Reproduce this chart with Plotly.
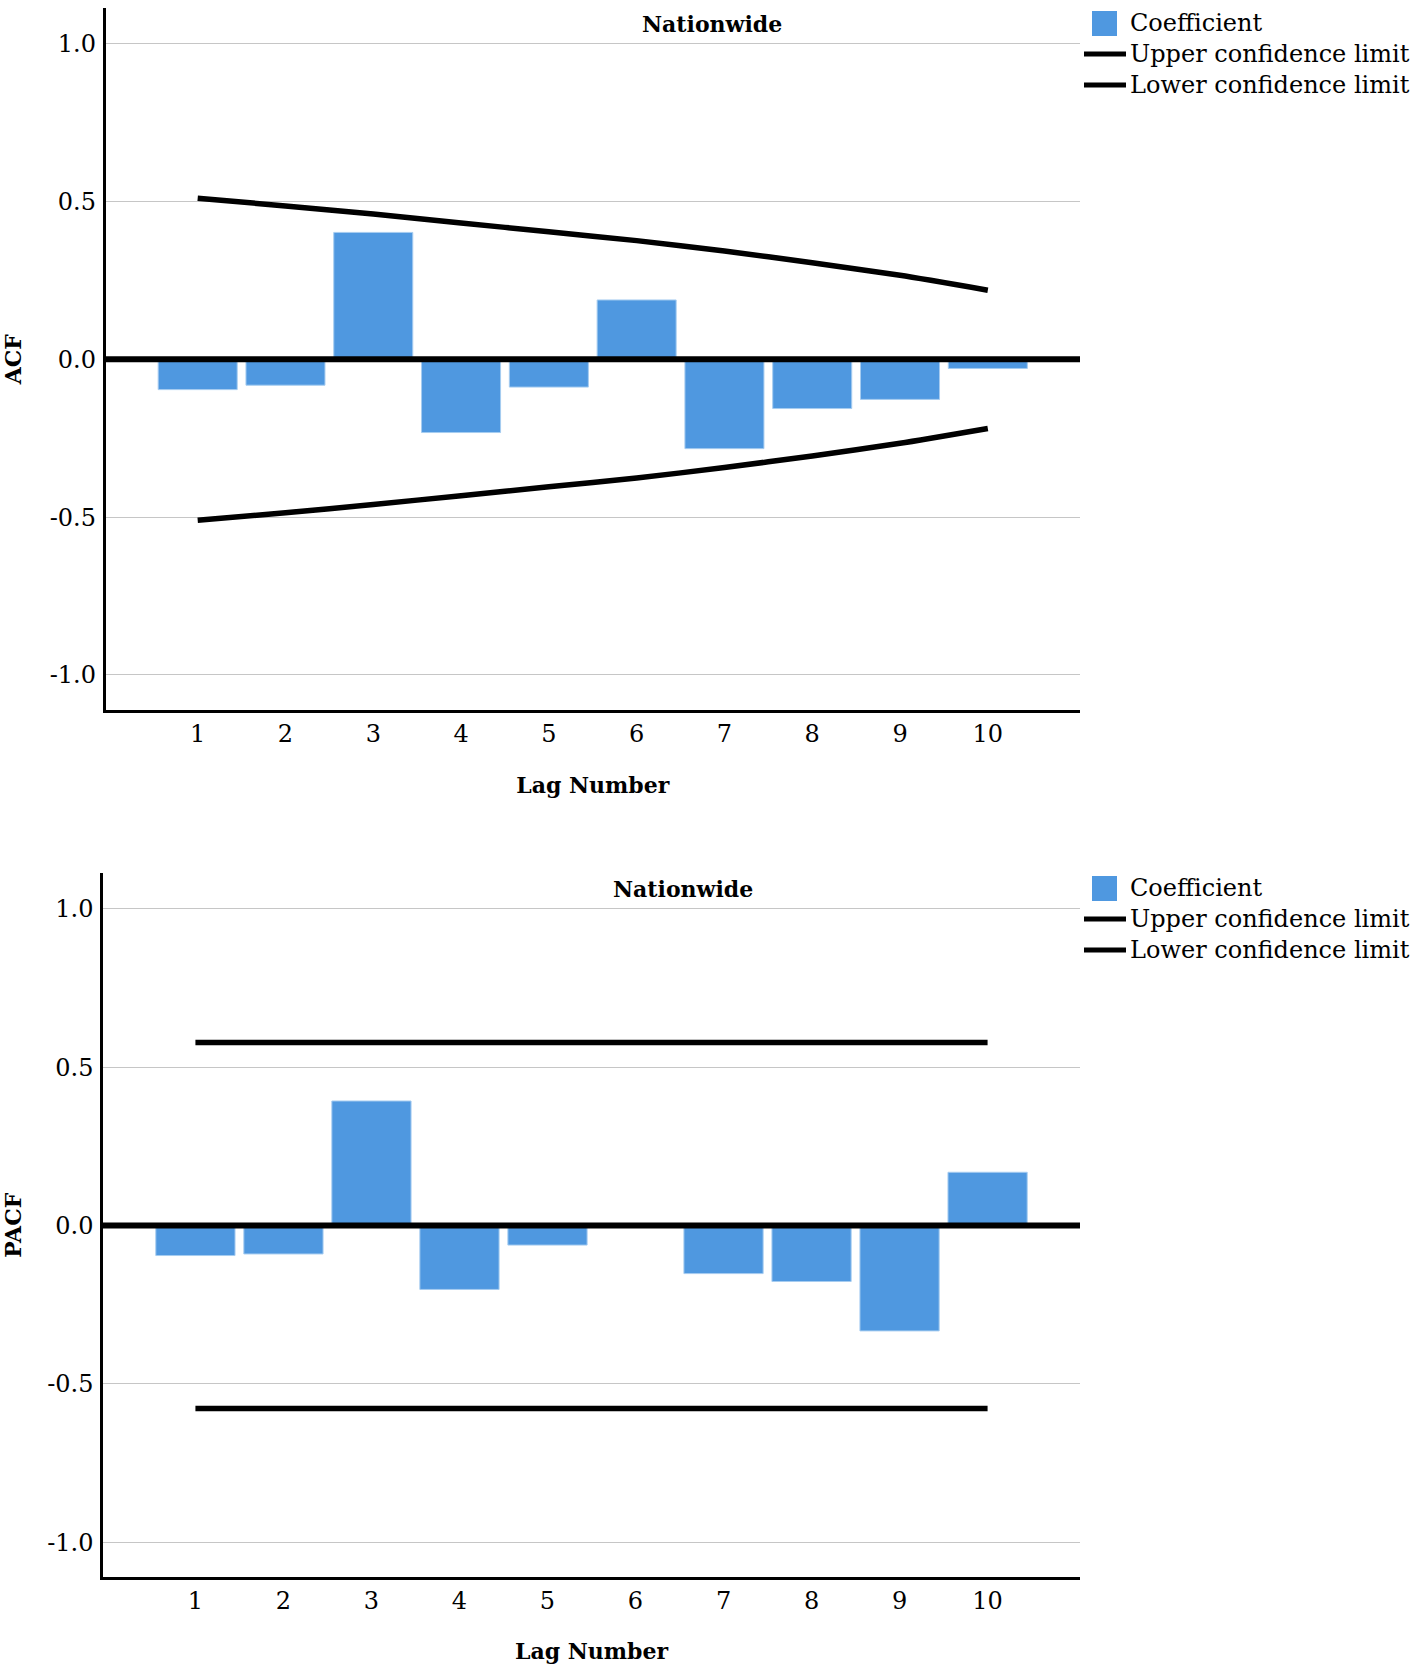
import plotly.graph_objects as go

# ---------------- data ----------------
lags = [1, 2, 3, 4, 5, 6, 7, 8, 9, 10]
lag_tick_text = ["1", "2", "3", "4", "5", "6", "7", "8", "9", "10"]
y_tick_vals = [-1.0, -0.5, 0.0, 0.5, 1.0]
y_tick_text = ["-1.0", "-0.5", "0.0", "0.5", "1.0"]

acf_coef = [-0.096, -0.082, 0.402, -0.232, -0.088, 0.188, -0.283, -0.156, -0.127, -0.029]
acf_upper = [0.510, 0.486, 0.460, 0.432, 0.404, 0.376, 0.343, 0.306, 0.266, 0.219]
acf_lower = [-0.510, -0.486, -0.460, -0.432, -0.404, -0.376, -0.343, -0.306, -0.266, -0.219]

pacf_coef = [-0.095, -0.090, 0.393, -0.202, -0.062, 0.002, -0.152, -0.177, -0.333, 0.168]
pacf_upper = [0.578, 0.578, 0.578, 0.578, 0.578, 0.578, 0.578, 0.578, 0.578, 0.578]
pacf_lower = [-0.578, -0.578, -0.578, -0.578, -0.578, -0.578, -0.578, -0.578, -0.578, -0.578]

series_names = ["Coefficient", "Upper confidence limit", "Lower confidence limit"]
panel_title = "Nationwide"
y_titles = ["ACF", "PACF"]
x_title = "Lag Number"

# ---------------- style ----------------
W, H = 1424, 1668
FONT = "DejaVu Serif"
BAR_COLOR = "#4f98e0"
BAR_EDGE = "#a6ccf0"
GRID = "#c6c6c6"


def px_x(p):
    return p / W


def px_y(p):
    return 1 - p / H


fig = go.Figure()

panels = [
    dict(coef=acf_coef, up=acf_upper, lo=acf_lower, xa="x", ya="y",
         xdom=[px_x(105.5), px_x(1080)], ydom=[px_y(710), px_y(8.3)],
         title_x=711.7, title_y=24, leg_top=0, ytitle=y_titles[0], xstand=32),
    dict(coef=pacf_coef, up=pacf_upper, lo=pacf_lower, xa="x2", ya="y2",
         xdom=[px_x(103), px_x(1080)], ydom=[px_y(1577.3), px_y(873.3)],
         title_x=683, title_y=889, leg_top=865, ytitle=y_titles[1], xstand=30),
]

shapes = []
annotations = []

for i, p in enumerate(panels):
    fig.add_trace(go.Bar(x=lags, y=p["coef"], name=series_names[0],
                         marker=dict(color=BAR_COLOR, line=dict(color=BAR_EDGE, width=1)),
                         xaxis=p["xa"], yaxis=p["ya"], showlegend=False))
    fig.add_trace(go.Scatter(x=lags, y=p["up"], name=series_names[1], mode="lines",
                             line=dict(color="black", width=5.5, shape="spline", smoothing=0.6),
                             xaxis=p["xa"], yaxis=p["ya"], showlegend=False))
    fig.add_trace(go.Scatter(x=lags, y=p["lo"], name=series_names[2], mode="lines",
                             line=dict(color="black", width=5.5, shape="spline", smoothing=0.6),
                             xaxis=p["xa"], yaxis=p["ya"], showlegend=False))

    sfx = "" if i == 0 else "2"
    axis_common = dict(showline=True, linecolor="black", linewidth=2.5, mirror=False,
                       automargin=False,
                       ticks="", tickfont=dict(family=FONT, size=24, color="black"))
    fig.layout["xaxis" + sfx] = dict(
        domain=p["xdom"], anchor="y" + sfx, range=[-0.05, 11.05],
        tickmode="array", tickvals=lags, ticktext=lag_tick_text,
        showgrid=False, zeroline=False, ticklabelstandoff=0,
        title=dict(text="<b>" + x_title + "</b>", font=dict(family=FONT, size=22, color="black"),
                   standoff=p["xstand"]),
        **axis_common)
    fig.layout["yaxis" + sfx] = dict(
        domain=p["ydom"], anchor="x" + sfx, range=[-1.111, 1.112],
        tickmode="array", tickvals=y_tick_vals, ticktext=y_tick_text,
        showgrid=True, gridcolor=GRID, gridwidth=1.2, zeroline=False, ticklabelstandoff=2,
        title=dict(text="<b>" + p["ytitle"] + "</b>", font=dict(family=FONT, size=22, color="black"),
                   standoff=23),
        **axis_common)

    # thick zero reference line drawn over the bars
    shapes.append(dict(type="line", xref=p["xa"] + " domain", yref=p["ya"], x0=0, x1=1, y0=0, y1=0,
                       line=dict(color="black", width=6), layer="above"))

    # panel title
    annotations.append(dict(text="<b>" + panel_title + "</b>", x=px_x(p["title_x"]), y=px_y(p["title_y"]),
                            xref="paper", yref="paper", xanchor="center", yanchor="middle",
                            showarrow=False, font=dict(family=FONT, size=22, color="black")))

    # manual legend
    t = p["leg_top"]
    shapes.append(dict(type="rect", xref="paper", yref="paper",
                       x0=px_x(1092), x1=px_x(1117), y0=px_y(t + 11), y1=px_y(t + 36),
                       fillcolor=BAR_COLOR, line=dict(width=0)))
    for k, ly in enumerate([t + 54, t + 85]):
        shapes.append(dict(type="line", xref="paper", yref="paper",
                           x0=px_x(1084), x1=px_x(1126), y0=px_y(ly), y1=px_y(ly),
                           line=dict(color="black", width=5)))
    for k, ty in enumerate([t + 23, t + 54, t + 85]):
        annotations.append(dict(text=series_names[k], x=px_x(1128), y=px_y(ty),
                                xref="paper", yref="paper", xanchor="left", yanchor="middle",
                                showarrow=False, font=dict(family=FONT, size=24, color="black")))

fig.update_layout(
    width=W, height=H, autosize=False,
    margin=dict(l=0, r=0, t=0, b=0),
    paper_bgcolor="white", plot_bgcolor="white",
    bargap=0.1, showlegend=False, hovermode=False,
    shapes=shapes, annotations=annotations,
)

# remove the default page margin so the figure fills the window exactly
fig.write_html("out.html", config={"displayModeBar": False},
               post_script="document.body.style.margin='0px';")
